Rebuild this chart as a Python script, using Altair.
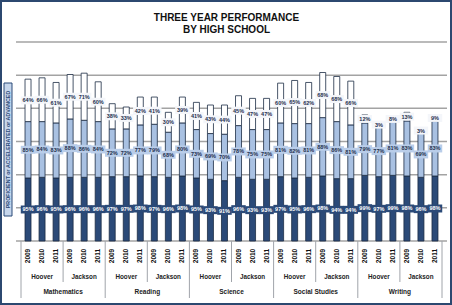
import altair as alt
import pandas as pd

subjects = ["Mathematics", "Reading", "Science", "Social Studies", "Writing"]
schools = ["Hoover", "Jackson"]
years = ["2009", "2010", "2011"]

proficient = [95, 96, 95, 96, 96, 96,
              97, 97, 98, 97, 96, 98,
              95, 93, 91, 96, 93, 93,
              97, 95, 96, 98, 94, 94,
              99, 97, 99, 98, 96, 98]
accelerated = [85, 84, 83, 88, 86, 84,
               72, 72, 77, 79, 68, 80,
               73, 69, 70, 78, 75, 75,
               81, 82, 81, 88, 86, 81,
               79, 77, 81, 83, 69, 83]
advanced = [64, 66, 61, 67, 71, 60,
            38, 33, 42, 41, 30, 39,
            41, 43, 44, 45, 47, 47,
            60, 65, 62, 68, 68, 66,
            12, 3, 8, 13, 3, 9]
segments = ["Proficient", "Accelerated", "Advanced"]
grid_values = [0, 50, 100, 150, 200, 250, 300]

title_lines = ["THREE YEAR PERFORMANCE", "BY HIGH SCHOOL"]
y_title = "PROFICIENT or ACCELERATED or ADVANCED"

NAVY = "#2b4a78"
bar_fill = {"Proficient": NAVY, "Accelerated": "#a9c1e2", "Advanced": "#ffffff"}
box_fill = {"Proficient": NAVY, "Accelerated": "#b9cde9", "Advanced": "#f4f6fa"}
text_col = {"Proficient": "#ffffff", "Accelerated": "#1e2f4d", "Advanced": "#1e2f4d"}

bar_rows = []
i = 0
for s in subjects:
    for sc in schools:
        for yr in years:
            bar_rows.append(dict(idx=i, subject=s, school=sc, year=yr))
            i += 1
bars_df = pd.DataFrame(bar_rows)

seg_rows = []
for b, p, a, d in zip(bar_rows, proficient, accelerated, advanced):
    lo = 0
    for seg, v in zip(segments, [p, a, d]):
        seg_rows.append(dict(idx=b["idx"], seg=seg, lo=lo, hi=lo + v, mid=lo + v / 2,
                             label=f"{v}%", fill=bar_fill[seg], bfill=box_fill[seg],
                             tcol=text_col[seg]))
        lo += v
seg_df = pd.DataFrame(seg_rows)

# separators derived from group boundaries
sep_rows = [dict(pos=-0.5, kind="long")]
for (s, sc), g in bars_df.groupby(["subject", "school"], sort=False):
    sep_rows.append(dict(pos=g["idx"].max() + 0.5, kind="long" if sc == schools[-1] else "short"))
sep_df = pd.DataFrame(sep_rows)
grid_df = pd.DataFrame({"v": grid_values})
one = pd.DataFrame({"a": [0]})

FONT = "Liberation Sans"
xs = alt.Scale(domain=[-0.5, 29.5], nice=False, zero=False)
ys = alt.Scale(domain=[0, 300], nice=False)
X = alt.X("idx:Q", scale=xs, axis=None)

border = alt.Chart(one).mark_rect(fillOpacity=0, stroke="#2c4870", strokeWidth=2).encode(
    x=alt.value(-15), x2=alt.value(435), y=alt.value(-41), y2=alt.value(262))

grid = alt.Chart(grid_df).mark_rule(color="#a3a3a3", strokeWidth=1.5).encode(
    y=alt.Y("v:Q", scale=ys, axis=None), x=alt.value(0), x2=alt.value(431))

ybox = alt.Chart(one).mark_rect(fill="#c6d6ec", stroke=NAVY, strokeWidth=1).encode(
    x=alt.value(-12), x2=alt.value(-4), y=alt.value(41), y2=alt.value(174))
ytext = alt.Chart(one).mark_text(text=y_title, angle=270, fontSize=5.3, fontWeight="bold",
                                 font=FONT, color=NAVY, baseline="middle", align="center").encode(
    x=alt.value(-7.8), y=alt.value(107.5))

bars = alt.Chart(seg_df).mark_bar(size=6, stroke="#1c2c44", strokeWidth=0.8).encode(
    x=X, y=alt.Y("lo:Q", scale=ys, axis=None), y2="hi:Q", fill=alt.Fill("fill:N", scale=None))

boxes = alt.Chart(seg_df).mark_point(shape="M-1,-0.55H1V0.55H-1Z", filled=True, size=210,
                                     opacity=1, strokeWidth=0).encode(
    x=X, y=alt.Y("mid:Q", scale=ys, axis=None), fill=alt.Fill("bfill:N", scale=None))

labels = alt.Chart(seg_df).mark_text(fontSize=5.5, fontWeight="bold", font=FONT,
                                     baseline="middle").encode(
    x=X, y=alt.Y("mid:Q", scale=ys, axis=None), text="label:N",
    color=alt.Color("tcol:N", scale=None))

year_lbl = alt.Chart(bars_df).mark_text(angle=270, fontSize=6.5, fontWeight="bold", font=FONT,
                                        color="#111111", baseline="middle", align="center").encode(
    x=X, y=alt.value(214), text="year:N")

school_lbl = alt.Chart(bars_df).transform_aggregate(
    cx="mean(idx)", groupby=["subject", "school"]).mark_text(
    fontSize=6.3, fontWeight="bold", font=FONT, color="#222222", baseline="middle").encode(
    x=alt.X("cx:Q", scale=xs, axis=None), y=alt.value(235), text="school:N")

subject_lbl = alt.Chart(bars_df).transform_aggregate(
    cx="mean(idx)", groupby=["subject"]).mark_text(
    fontSize=6.5, fontWeight="bold", font=FONT, color="#222222", baseline="middle").encode(
    x=alt.X("cx:Q", scale=xs, axis=None), y=alt.value(250), text="subject:N")

seps_short = alt.Chart(sep_df).transform_filter(alt.datum.kind == "short").mark_rule(
    color="#a0a4aa", strokeWidth=1).encode(
    x=alt.X("pos:Q", scale=xs, axis=None), y=alt.value(199), y2=alt.value(240))
seps_long = alt.Chart(sep_df).transform_filter(alt.datum.kind == "long").mark_rule(
    color="#a0a4aa", strokeWidth=1).encode(
    x=alt.X("pos:Q", scale=xs, axis=None), y=alt.value(199), y2=alt.value(256))

title1 = alt.Chart(one).mark_text(text=title_lines[0], fontSize=10, fontWeight="bold", font=FONT,
                                  color="#111111", baseline="alphabetic", align="center").encode(
    x=alt.value(210.5), y=alt.value(-21))
title2 = alt.Chart(one).mark_text(text=title_lines[1], fontSize=10, fontWeight="bold", font=FONT,
                                  color="#111111", baseline="alphabetic", align="center").encode(
    x=alt.value(210.5), y=alt.value(-9.3))

chart = alt.layer(
    border, grid, ybox, ytext, bars, boxes, labels, year_lbl, school_lbl, subject_lbl,
    seps_short, seps_long, title1, title2
).properties(
    width=431, height=199,
    padding={"left": 16, "top": 42, "right": 5, "bottom": 64},
    autosize=alt.AutoSizeParams(type="none"),
    background="white",
).configure_view(stroke=None)

chart.save("out.html", embed_options={"renderer": "svg", "actions": False})
